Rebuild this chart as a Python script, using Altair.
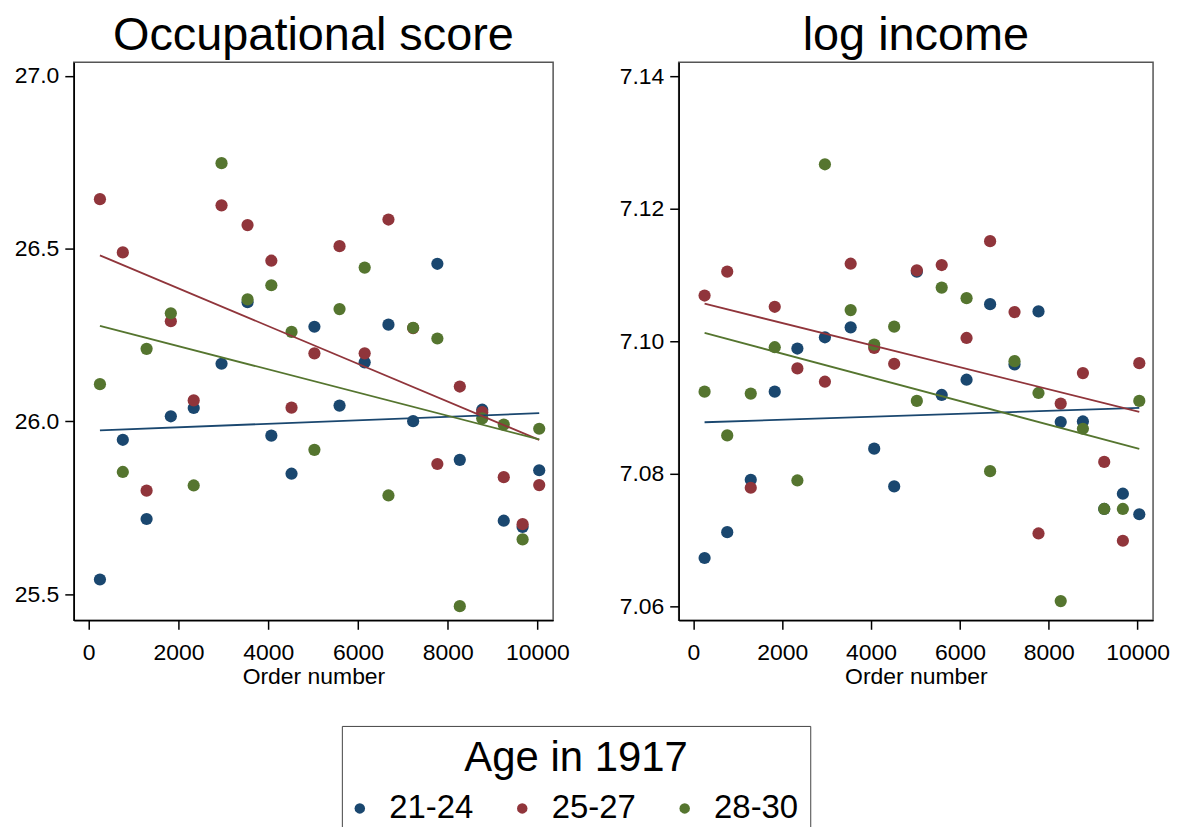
import altair as alt
import pandas as pd

# ---- data ----
order_num = [250, 760, 1290, 1830, 2340, 2960, 3540, 4070, 4520, 5030,
             5590, 6150, 6680, 7230, 7770, 8270, 8770, 9250, 9670, 10040]
groups = ["21-24", "25-27", "28-30"]
colors = ["#1a476f", "#90353b", "#55752f"]

occ_21_24 = [25.543, 25.947, 25.718, 26.015, 26.039, 26.167, 26.345, 25.959, 25.849, 26.274,
             26.046, 26.171, 26.280, 26.001, 26.456, 25.889, 26.034, 25.713, 25.695, 25.859]
occ_25_27 = [26.643, 26.489, 25.800, 26.290, 26.061, 26.625, 26.568, 26.465, 26.040, 26.197,
             26.507, 26.197, 26.584, 26.270, 25.877, 26.101, 26.027, 25.839, 25.703, 25.816]
occ_28_30 = [26.108, 25.854, 26.210, 26.313, 25.815, 26.747, 26.353, 26.394, 26.259, 25.918,
             26.325, 26.445, 25.786, 26.271, 26.240, 25.466, 26.009, 25.991, 25.659, 25.979]

inc_21_24 = [7.0673, 7.0712, 7.0791, 7.0924, 7.0989, 7.1006, 7.1021, 7.0838, 7.0781, 7.1105,
             7.0919, 7.0942, 7.1056, 7.0965, 7.1045, 7.0878, 7.0879, 7.0747, 7.0770, 7.0739]
inc_25_27 = [7.1069, 7.1105, 7.0779, 7.1052, 7.0959, 7.0939, 7.1117, 7.0990, 7.0966, 7.1107,
             7.1115, 7.1005, 7.1151, 7.1044, 7.0710, 7.0906, 7.0952, 7.0818, 7.0699, 7.0967]
inc_28_30 = [7.0924, 7.0858, 7.0921, 7.0991, 7.0790, 7.1267, 7.1047, 7.0995, 7.1022, 7.0910,
             7.1081, 7.1065, 7.0804, 7.0970, 7.0922, 7.0608, 7.0868, 7.0747, 7.0747, 7.0910]

x_ticks = [0, 2000, 4000, 6000, 8000, 10000]
occ_ticks = [25.5, 26.0, 26.5, 27.0]
inc_ticks = [7.06, 7.08, 7.10, 7.12, 7.14]


def make_df(series):
    rows = []
    for g, vals in zip(groups, series):
        for x, y in zip(order_num, vals):
            rows.append({"order": x, "value": y, "age": g})
    return pd.DataFrame(rows)


FONT = "Liberation Sans"

legend = alt.Legend(
    title="Age in 1917",
    orient="none",
    legendX=269,
    legendY=666,
    direction="horizontal",
    titleAnchor="middle",
    titleFontSize=42,
    titleFont=FONT,
    titleFontWeight="normal",
    titleColor="black",
    titleLimit=1000,
    titlePadding=12,
    labelFontSize=33,
    labelFont=FONT,
    labelColor="black",
    labelLimit=1000,
    labelOffset=13,
    symbolOffset=-10.5,
    columnPadding=43,
    symbolType="circle",
    symbolSize=110,
    symbolStrokeWidth=0,
    strokeColor="#444444",
    padding=12,
)


def panel(series, title, ydomain, yticks, yfmt, width):
    df = make_df(series)
    x = alt.X("order:Q",
              scale=alt.Scale(domain=[-333, 10350], nice=False, zero=False),
              axis=alt.Axis(values=x_ticks, title="Order number", format="d"))
    y = alt.Y("value:Q",
              scale=alt.Scale(domain=ydomain, nice=False, zero=False),
              axis=alt.Axis(values=yticks, format=yfmt, title=None))
    cscale = alt.Scale(domain=groups, range=colors)
    pts = alt.Chart(df).mark_circle(size=150, opacity=1).encode(
        x=x, y=y, color=alt.Color("age:N", scale=cscale, legend=legend))
    lines = alt.Chart(df).transform_regression(
        "order", "value", groupby=["age"]
    ).mark_line(strokeWidth=1.8).encode(
        x=alt.X("order:Q"), y=alt.Y("value:Q"),
        color=alt.Color("age:N", scale=cscale, legend=None))
    return alt.layer(pts, lines).properties(width=width, height=560, title=title)


left = panel([occ_21_24, occ_25_27, occ_28_30], "Occupational score",
             [25.425, 27.039], occ_ticks, ".1f", 481)
right = panel([inc_21_24, inc_25_27, inc_28_30], "log income",
              [7.0579, 7.1421], inc_ticks, ".2f", 476)

chart = alt.hconcat(left, right, spacing=48).properties(
    padding={"left": 5, "top": 2, "right": 0, "bottom": -13}
).configure_view(
    stroke="#555555", strokeWidth=1.5
).configure_axis(
    grid=False,
    labelFont=FONT, titleFont=FONT,
    labelFontSize=23, titleFontSize=23,
    labelColor="black", titleColor="black",
    titleFontWeight="normal",
    tickSize=9, tickColor="black", tickWidth=1.5,
    domainColor="black", domainWidth=1.5,
    labelPadding=6, titlePadding=1,
).configure_axisX(
    labelPadding=12
).configure_title(
    font=FONT, fontSize=47, fontWeight="normal", color="black",
    anchor="middle", offset=2
)

chart.save("out.html", embed_options={"renderer": "svg", "actions": False})
